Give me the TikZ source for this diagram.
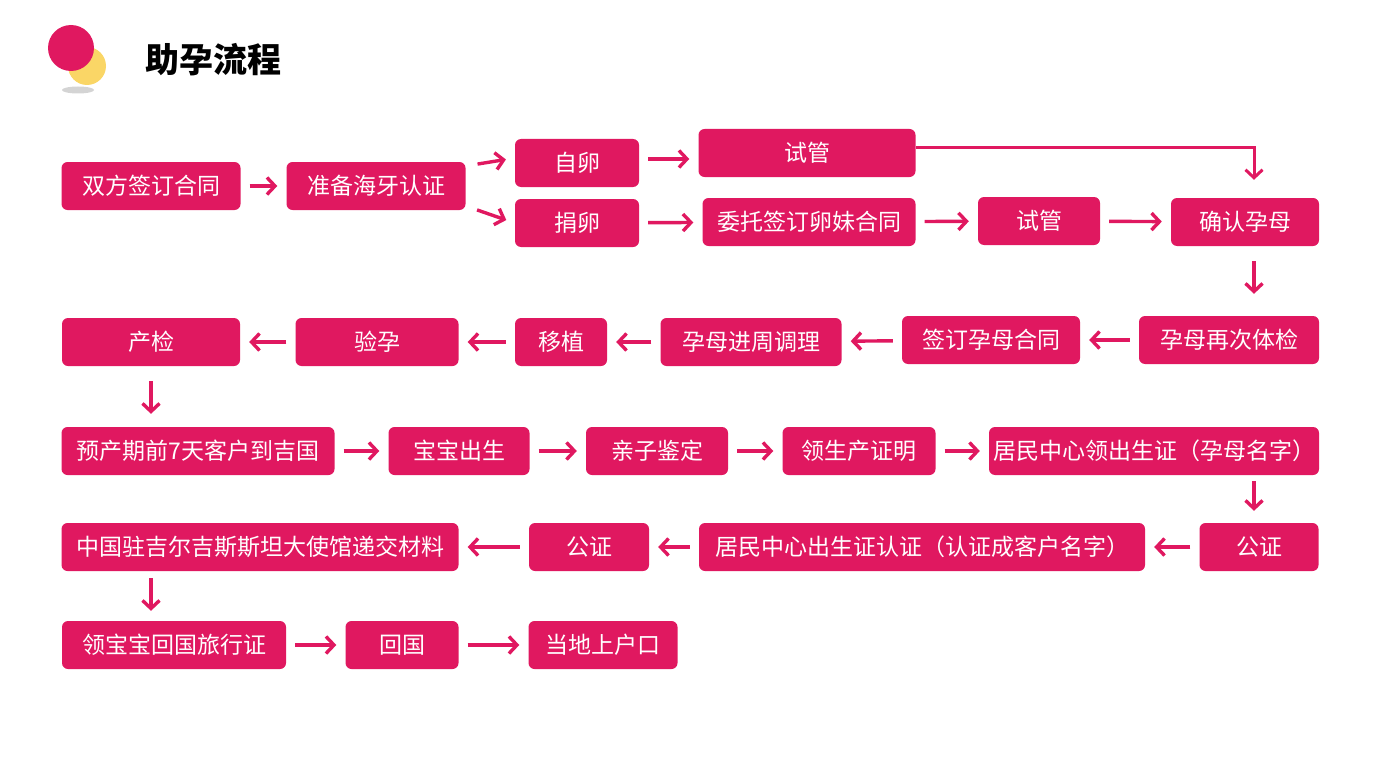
\documentclass[tikz,border=0pt]{standalone}
\usepackage{fontspec}
\newfontfamily\cjk{Noto Sans CJK SC}
\usetikzlibrary{arrows.meta}
\definecolor{boxpink}{RGB}{224,24,96}
\definecolor{dotyellow}{RGB}{250,214,102}
\definecolor{shadowgray}{RGB}{212,212,212}

\begin{document}
\begin{tikzpicture}[x=1pt, y=-1pt,
    box/.style={rectangle, fill=boxpink, rounded corners=6pt, minimum height=48pt, inner sep=0pt, text=white, font=\cjk\fontsize{23}{27}\selectfont},
    arrow/.style={-{Straight Barb[length=8pt,width=17pt]}, line width=3.4pt, draw=boxpink, shorten <=9pt, shorten >=9pt}
]
\useasboundingbox (0,0) rectangle (1384,765);

% Title
\fill[shadowgray] (78,90) ellipse [x radius=16, y radius=3.5];
\fill[dotyellow] (87,66) circle [radius=19];
\fill[boxpink] (71,48) circle [radius=23];
\node[font=\cjk\bfseries\fontsize{34}{40}\selectfont] (title) at (213,60) {助孕流程};

% Row 1
\node[box, minimum width=179] (contract) at (151,186) {双方签订合同};
\node[box, minimum width=179] (apostille) at (376,186) {准备海牙认证};
\node[box, minimum width=124] (ownegg) at (577,163) {自卵};
\node[box, minimum width=124] (donegg) at (577,223) {捐卵};
\node[box, minimum width=217] (ivfA) at (807,153) {试管};
\node[box, minimum width=213] (eggcontract) at (809,222) {委托签订卵妹合同};
\node[box, minimum width=122] (ivfB) at (1039,221) {试管};
\node[box, minimum width=148] (confirm) at (1245,222) {确认孕母};

% Row 2
\node[box, minimum width=180] (recheck) at (1229,340) {孕母再次体检};
\node[box, minimum width=178] (surrcontract) at (991,340) {签订孕母合同};
\node[box, minimum width=181] (conditioning) at (751,342) {孕母进周调理};
\node[box, minimum width=92] (transfer) at (561,342) {移植};
\node[box, minimum width=163] (pregtest) at (377,342) {验孕};
\node[box, minimum width=178] (prenatal) at (151,342) {产检};

% Row 3
\node[box, minimum width=273] (arrival) at (198,451) {预产期前7天客户到吉国};
\node[box, minimum width=141] (birth) at (459,451) {宝宝出生};
\node[box, minimum width=142] (dnatest) at (657,451) {亲子鉴定};
\node[box, minimum width=153] (birthproof) at (859,451) {领生产证明};
\node[box, minimum width=330] (birthcert) at (1154,451) {居民中心领出生证（孕母名字）};

% Row 4
\node[box, minimum width=119] (notaryA) at (1259,547) {公证};
\node[box, minimum width=446] (certauth) at (922,547) {居民中心出生证认证（认证成客户名字）};
\node[box, minimum width=120] (notaryB) at (589,547) {公证};
\node[box, minimum width=397] (embassy) at (260,547) {中国驻吉尔吉斯斯坦大使馆递交材料};

% Row 5
\node[box, minimum width=224] (travelpass) at (174,645) {领宝宝回国旅行证};
\node[box, minimum width=113] (return) at (402,645) {回国};
\node[box, minimum width=149] (hukou) at (603,645) {当地上户口};

\coordinate (rcol) at (1254,0);

% Arrows
\draw[arrow] (contract) -- (apostille);
\draw[arrow, shorten <=12pt] ([yshift=20pt]apostille.east) -- ([yshift=5pt]ownegg.west);
\draw[arrow, shorten <=12pt] ([yshift=-20pt]apostille.east) -- (donegg.west);
\draw[arrow] ([yshift=4pt]ownegg.east) -- ([yshift=4pt]ownegg.east -| ivfA.west);
\draw[arrow] (donegg) -- (eggcontract);
\draw[arrow] (eggcontract) -- (ivfB);
\draw[arrow] (ivfB) -- (confirm);
\draw[arrow, line width=3pt, shorten <=0pt, shorten >=18pt] ([yshift=5pt]ivfA.east) -| (confirm.north -| rcol);
\draw[arrow, shorten <=15pt, shorten >=22pt] (confirm.south -| rcol) -- (recheck.north -| rcol);
\draw[arrow] (recheck) -- (surrcontract);
\draw[arrow] (surrcontract) -- (conditioning);
\draw[arrow] (conditioning) -- (transfer);
\draw[arrow] (transfer) -- (pregtest);
\draw[arrow] (pregtest) -- (prenatal);
\draw[arrow, shorten <=15pt, shorten >=13pt] (prenatal.south) -- (arrival.north -| prenatal);
\draw[arrow] (arrival) -- (birth);
\draw[arrow] (birth) -- (dnatest);
\draw[arrow] (dnatest) -- (birthproof);
\draw[arrow] (birthproof) -- (birthcert);
\draw[arrow, shorten <=6pt, shorten >=12pt] (birthcert.south -| rcol) -- (notaryA.north -| rcol);
\draw[arrow] (notaryA) -- (certauth);
\draw[arrow] (certauth) -- (notaryB);
\draw[arrow] (notaryB) -- (embassy);
\draw[arrow, shorten <=7pt, shorten >=10pt] (embassy.south -| prenatal) -- (travelpass.north -| prenatal);
\draw[arrow] (travelpass) -- (return);
\draw[arrow] (return) -- (hukou);
\end{tikzpicture}
\end{document}
